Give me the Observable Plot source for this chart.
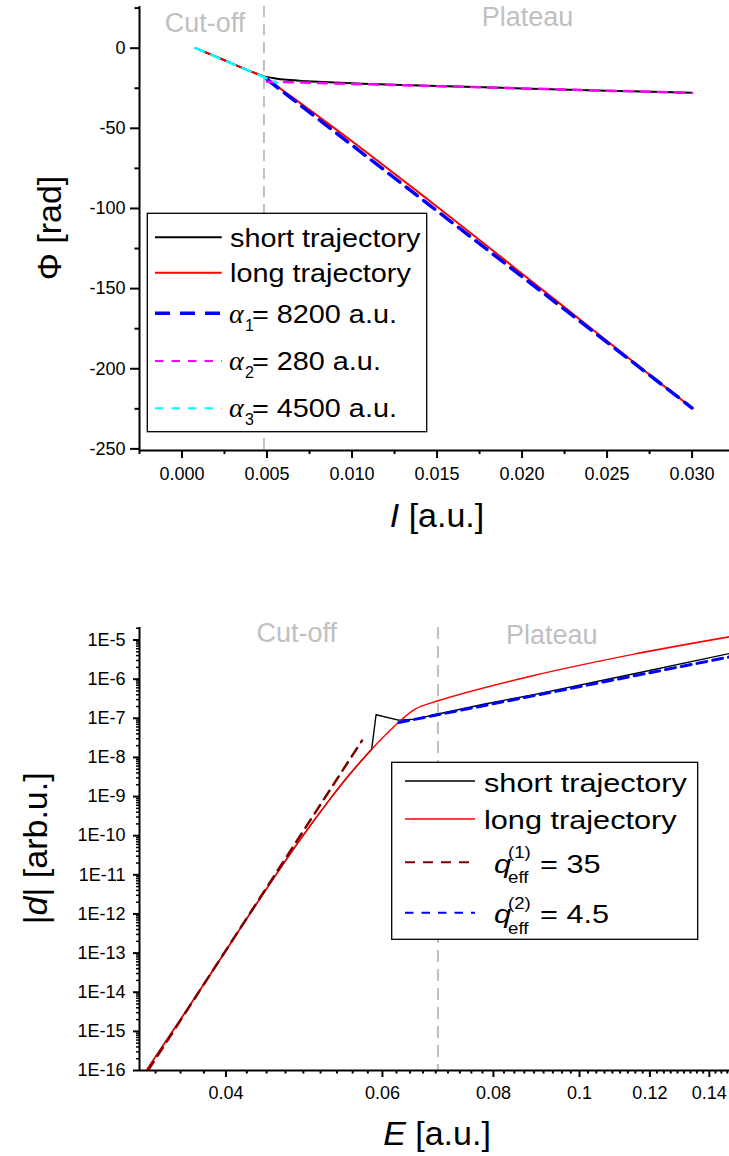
<!DOCTYPE html>
<html>
<head>
<meta charset="utf-8">
<script src="https://cdn.jsdelivr.net/npm/d3@7"></script>
<script src="https://cdn.jsdelivr.net/npm/@observablehq/plot@0.6"></script>
<style>
  body { margin: 0; background: #fff; }
  #fig { position: relative; width: 729px; height: 1156px; overflow: hidden; background: #fff; }
  #fig svg { display: block; }
</style>
</head>
<body>
<div id="fig"></div>
<script>
// ---------- Phase of the harmonic vs. laser intensity ----------
// Intensity samples (a.u.) and phases (rad) of the two quantum trajectories
const shortI   = [0.0008, 0.002, 0.003, 0.004, 0.0048, 0.0055, 0.006, 0.007, 0.008, 0.010, 0.012, 0.015, 0.020, 0.025, 0.030];
const shortPhi = [0, -5.3, -9.8, -14.3, -17.6, -18.9, -19.6, -20.4, -21.0, -21.9, -22.6, -23.6, -25.1, -26.5, -27.8];
const longI    = [0.0008, 0.002, 0.003, 0.004, 0.0048, 0.0055, 0.006, 0.007, 0.008, 0.010, 0.012, 0.015, 0.018, 0.020, 0.022, 0.025, 0.028, 0.030];
const longPhi  = [0, -5.3, -9.8, -14.3, -17.8, -23.0, -26.9, -34.6, -42.3, -58.1, -74.3, -98.9, -123.9, -140.7, -157.5, -182.7, -207.9, -224.5];

// Linear fits  Phi = Phi0 - alpha (I - I0)
const alphaValues  = [8200, 280, 4500];
const alphaStartI  = [0.0050, 0.0050, 0.0008];
const alphaEndI    = [0.030, 0.030, 0.0056];
const alphaAnchorI = [0.030, 0.030, 0.0008];
const alphaAnchorPhi = [-224.5, -27.9, 0];

const phaseCutoffI = 0.00482;
const intensityTicks = [0, 0.005, 0.010, 0.015, 0.020, 0.025, 0.030];
const intensityMinorTicks = [-0.0025, 0.0025, 0.0075, 0.0125, 0.0175, 0.0225, 0.0275];
const phaseTicks = [0, -50, -100, -150, -200, -250];
const phaseMinorTicks = [25, -25, -75, -125, -175, -225];

// ---------- Dipole amplitude vs. field strength ----------
const fieldLong  = [0.03254, 0.03802, 0.04365, 0.04837, 0.05248, 0.05495, 0.05835, 0.06255, 0.06532, 0.06931, 0.08855, 0.11485, 0.14751];
const dipoleLong = [1e-16, 2.0e-14, 2.4e-12, 7.4e-11, 9.1e-10, 3.4e-9, 1.62e-8, 7.8e-8, 1.72e-7, 2.8e-7, 1.22e-6, 4.3e-6, 1.21e-5];
const fieldShort  = [0.03254, 0.03802, 0.04365, 0.04837, 0.05248, 0.05495, 0.05835, 0.05902, 0.06255, 0.06532, 0.06931, 0.0780, 0.08855, 0.11485, 0.14751];
const dipoleShort = [1e-16, 2.0e-14, 2.4e-12, 7.4e-11, 9.1e-10, 3.4e-9, 1.62e-8, 1.23e-7, 9.0e-8, 9.55e-8, 1.29e-7, 2.29e-7, 3.98e-7, 1.35e-6, 4.52e-6];
const shortKinkIndex = 6; // where the short trajectory leaves the long one

// Power-law fits  |d| = d0 (E / E0)^q_eff
const qValues  = [35, 4.5];
const qStartE  = [0.0327, 0.0626];
const qEndE    = [0.0569, 0.1475];
const qAnchorE = [0.0569, 0.0626];
const qAnchorD = [2.69e-8, 7.82e-8];

const fieldCutoffE = 0.0693;
const fieldTicks = [0.04, 0.06, 0.08, 0.1, 0.12, 0.14];
const dipoleExponents = [-16, -15, -14, -13, -12, -11, -10, -9, -8, -7, -6, -5];

// ---------- helpers ----------
const FONT = "'Liberation Sans', Arial, Helvetica, sans-serif";
const SERIF = "'Liberation Serif', 'Times New Roman', serif";
const zip = (xs, ys, kx, ky) => xs.map((v, i) => ({[kx]: v, [ky]: ys[i]}));

const alphaLine = (j) => [alphaStartI[j], alphaEndI[j]].map(I => ({
  I, phi: alphaAnchorPhi[j] - alphaValues[j] * (I - alphaAnchorI[j])
}));
const qLine = (j) => [qStartE[j], qEndE[j]].map(E => ({
  E, d: qAnchorD[j] * Math.pow(E / qAnchorE[j], qValues[j])
}));

// minor ticks of the field axis: nine equal steps between labelled values
const fieldStep = 0.02 / 9;
const fieldMinorTicks = d3.range(-3, 49).filter(k => k % 9 !== 0).map(k => 0.04 + k * fieldStep);
const dipoleTicks = dipoleExponents.map(k => Math.pow(10, k));
const dipoleMinorTicks = dipoleExponents.flatMap(k => d3.range(2, 10).map(m => m * Math.pow(10, k)))
  .filter(v => v < Math.pow(10, -4.68));

function addText(g, x, y, pieces, {size = 28, anchor = "start", rotate = 0, sx = 1, fill = "#000"} = {}) {
  const t = g.append("text")
    .attr("transform", `translate(${x},${y})` + (rotate ? ` rotate(${rotate})` : "") + (sx !== 1 ? ` scale(${sx},1)` : ""))
    .attr("text-anchor", anchor)
    .attr("font-family", FONT)
    .attr("font-size", size)
    .attr("fill", fill);
  for (const p of pieces) {
    const s = t.append("tspan").text(p.t);
    if (p.italic) s.attr("font-style", "italic");
    if (p.family) s.attr("font-family", p.family);
  }
  return t;
}

function sample(g, x1, x2, y, stroke, width, dash) {
  const l = g.append("line").attr("x1", x1).attr("x2", x2).attr("y1", y).attr("y2", y)
    .attr("stroke", stroke).attr("stroke-width", width);
  if (dash) l.attr("stroke-dasharray", dash);
}

const fig = document.getElementById("fig");

// ---------- upper panel ----------
const topSvg = Plot.plot({
  width: 729, height: 560,
  marginLeft: 139, marginRight: 0, marginTop: 6, marginBottom: 110,
  style: {fontFamily: FONT, fontSize: "18px", color: "#000", background: "#fff"},
  x: {domain: [-0.0025, 0.0322]},
  y: {domain: [-251, 26]},
  marks: [
    Plot.ruleX([phaseCutoffI], {stroke: "#c0c0c0", strokeWidth: 2, strokeDasharray: "11,7"}),
    Plot.axisX(intensityTicks, {tickSize: 8, tickPadding: 9, strokeWidth: 2, tickFormat: d3.format(".3f"), label: null, fontSize: 18}),
    Plot.axisX(intensityMinorTicks, {tickSize: 4, strokeWidth: 2, tickFormat: () => "", label: null}),
    Plot.axisY(phaseTicks, {tickSize: 9, tickPadding: 5, strokeWidth: 2, tickFormat: d => String(d), label: null, fontSize: 18}),
    Plot.axisY(phaseMinorTicks, {tickSize: 4.5, strokeWidth: 2, tickFormat: () => "", label: null}),
    Plot.ruleX([-0.0025], {stroke: "#000", strokeWidth: 2}),
    Plot.ruleY([-251], {stroke: "#000", strokeWidth: 2}),
    Plot.line(zip(shortI, shortPhi, "I", "phi"), {x: "I", y: "phi", stroke: "#000", strokeWidth: 2, curve: "catmull-rom"}),
    Plot.line(zip(longI, longPhi, "I", "phi"), {x: "I", y: "phi", stroke: "#ff0000", strokeWidth: 2, curve: "catmull-rom"}),
    Plot.line(alphaLine(0), {x: "I", y: "phi", stroke: "#0000ff", strokeWidth: 3.5, strokeDasharray: "14,8"}),
    Plot.line(alphaLine(1), {x: "I", y: "phi", stroke: "#ff00ff", strokeWidth: 2.5, strokeDasharray: "9,8"}),
    Plot.line(alphaLine(2), {x: "I", y: "phi", stroke: "#00ffff", strokeWidth: 2.5, strokeDasharray: "9,8"})
  ]
});
fig.appendChild(topSvg);

{
  const g = d3.select(topSvg).append("g");
  addText(g, 205, 31.7, [{t: "Cut-off"}], {size: 27, anchor: "middle", fill: "#c0c0c0"});
  addText(g, 527.5, 26, [{t: "Plateau"}], {size: 27, anchor: "middle", fill: "#c0c0c0"});
  addText(g, 61, 228, [{t: "Φ [rad]"}], {size: 34, anchor: "middle", rotate: -90});
  addText(g, 437, 527, [{t: "I", italic: true}, {t: " [a.u.]"}], {size: 34, anchor: "middle"});

  const lg = g.append("g");
  lg.append("rect").attr("x", 147.3).attr("y", 213.3).attr("width", 279.4).attr("height", 218.4)
    .attr("fill", "#fff").attr("stroke", "#000").attr("stroke-width", 1.3);
  const x1 = 155, x2 = 221.7;
  sample(lg, x1, x2, 237.3, "#000", 2);
  addText(lg, 230, 246.7, [{t: "short trajectory"}], {size: 25.5, sx: 1.13});
  sample(lg, x1, x2, 272.7, "#ff0000", 2);
  addText(lg, 230, 281.7, [{t: "long trajectory"}], {size: 25.5, sx: 1.13});
  const alphaRows = [
    {y: 313.3, base: 323.3, stroke: "#0000ff", w: 3.5, dash: "15,10"},
    {y: 361, base: 370, stroke: "#ff00ff", w: 2, dash: "8.5,8"},
    {y: 408.3, base: 416.7, stroke: "#00ffff", w: 2, dash: "8.5,8"}
  ];
  alphaRows.forEach((r, j) => {
    sample(lg, x1, x2, r.y, r.stroke, r.w, r.dash);
    addText(lg, 229, r.base, [{t: "α", italic: true, family: SERIF}], {size: 28});
    addText(lg, 245, r.base + 8, [{t: String(j + 1)}], {size: 16});
    addText(lg, 252, r.base, [{t: `= ${alphaValues[j]} a.u.`}], {size: 25.5, sx: 1.13});
  });
}

// ---------- lower panel ----------
const shortRows = zip(fieldShort, dipoleShort, "E", "d");
const bottomSvg = Plot.plot({
  width: 729, height: 596,
  marginLeft: 139, marginRight: 0, marginTop: 67, marginBottom: 86,
  style: {fontFamily: FONT, fontSize: "18px", color: "#000", background: "#fff"},
  x: {type: "log", domain: [0.03197, 0.1475]},
  y: {type: "log", domain: [1e-16, Math.pow(10, -4.68)]},
  marks: [
    Plot.ruleX([fieldCutoffE], {stroke: "#c0c0c0", strokeWidth: 2, strokeDasharray: "12,7"}),
    Plot.axisX(fieldTicks, {tickSize: 7, tickPadding: 9, strokeWidth: 2, tickFormat: d => String(d), label: null, fontSize: 18}),
    Plot.axisX(fieldMinorTicks, {tickSize: 3.5, strokeWidth: 2, tickFormat: () => "", label: null}),
    Plot.axisY(dipoleTicks, {tickSize: 6, tickPadding: 8, strokeWidth: 2, tickFormat: d => "1E" + Math.round(Math.log10(d)), label: null, fontSize: 18}),
    Plot.axisY(dipoleMinorTicks, {tickSize: 3, strokeWidth: 1.5, tickFormat: () => "", label: null}),
    Plot.ruleX([0.03197], {stroke: "#000", strokeWidth: 2}),
    Plot.ruleY([1e-16], {stroke: "#000", strokeWidth: 2}),
    // short trajectory: smooth below cut-off, sharp kink where it separates
    Plot.line(shortRows.slice(0, shortKinkIndex + 1), {x: "E", y: "d", stroke: "#000", strokeWidth: 1.4, curve: "catmull-rom", clip: true}),
    Plot.line(shortRows.slice(shortKinkIndex), {x: "E", y: "d", stroke: "#000", strokeWidth: 1.4, clip: true}),
    Plot.line(zip(fieldLong, dipoleLong, "E", "d"), {x: "E", y: "d", stroke: "#ff0000", strokeWidth: 1.5, curve: "catmull-rom", clip: true}),
    Plot.line(qLine(0), {x: "E", y: "d", stroke: "#800000", strokeWidth: 2.5, strokeDasharray: "10,7", clip: true}),
    Plot.line(qLine(1), {x: "E", y: "d", stroke: "#0000ff", strokeWidth: 3, strokeDasharray: "10,6", clip: true})
  ]
});
fig.appendChild(bottomSvg);

{
  const g = d3.select(bottomSvg).append("g");
  const oy = 560;
  addText(g, 296.7, 642 - oy, [{t: "Cut-off"}], {size: 27, anchor: "middle", fill: "#c0c0c0"});
  addText(g, 551.7, 644.3 - oy, [{t: "Plateau"}], {size: 27, anchor: "middle", fill: "#c0c0c0"});
  addText(g, 47, 848.3 - oy, [{t: "|"}, {t: "d", italic: true}, {t: "| [arb.u.]"}], {size: 34, anchor: "middle", rotate: -90});
  addText(g, 437, 1145 - oy, [{t: "E", italic: true}, {t: " [a.u.]"}], {size: 34, anchor: "middle"});

  const lg = g.append("g");
  lg.append("rect").attr("x", 391.7).attr("y", 762.3 - oy).attr("width", 306).attr("height", 177)
    .attr("fill", "#fff").attr("stroke", "#000").attr("stroke-width", 1.3);
  const x1 = 405, x2 = 475;
  sample(lg, x1, x2, 781 - oy, "#000", 1.3);
  addText(lg, 484, 791.7 - oy, [{t: "short trajectory"}], {size: 26, sx: 1.18});
  sample(lg, x1, x2, 819 - oy, "#ff0000", 1.3);
  addText(lg, 484, 829.3 - oy, [{t: "long trajectory"}], {size: 26, sx: 1.18});
  const qRows = [
    {y: 862.3, base: 872.7, stroke: "#800000", dash: "10,8"},
    {y: 912.7, base: 923.3, stroke: "#0000ff", dash: "8.5,8"}
  ];
  qRows.forEach((r, j) => {
    sample(lg, x1, x2, r.y - oy, r.stroke, 2, r.dash);
    addText(lg, 494, r.base - oy, [{t: "q", italic: true}], {size: 26, sx: 1.18});
    addText(lg, 508, r.base - 14.7 - oy, [{t: `(${j + 1})`}], {size: 17, sx: 1.1});
    addText(lg, 508, r.base + 10.3 - oy, [{t: "eff"}], {size: 17, sx: 1.1});
    addText(lg, 540, r.base - oy, [{t: `= ${qValues[j]}`}], {size: 26, sx: 1.18});
  });
}
</script>
</body>
</html>
